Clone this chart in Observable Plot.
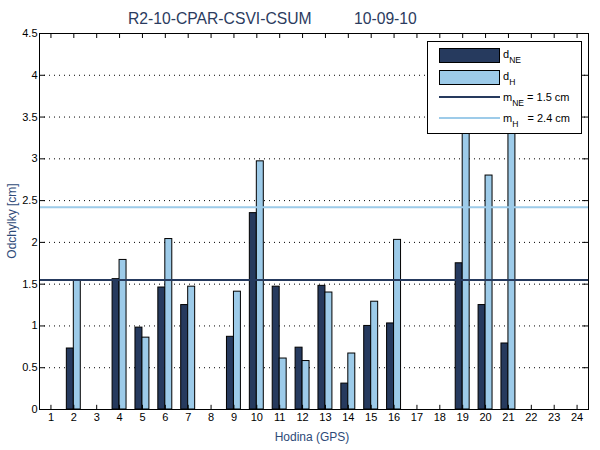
<!DOCTYPE html>
<html><head><meta charset="utf-8">
<script src="https://cdn.jsdelivr.net/npm/d3@7"></script>
<script src="https://cdn.jsdelivr.net/npm/@observablehq/plot@0.6"></script>
<style>
body{margin:0;background:#fff;}
#chart{width:600px;height:450px;}
</style>
</head><body><div id="chart"></div>
<script>
const hours = [1,2,3,4,5,6,7,8,9,10,11,12,13,14,15,16,17,18,19,20,21,22,23,24];
const dNE = [null,0.73,null,1.56,0.98,1.46,1.25,null,0.87,2.35,1.47,0.74,1.48,0.31,1.00,1.03,null,null,1.75,1.25,0.79,null,null,null];
const dH  = [null,1.54,null,1.79,0.86,2.04,1.47,null,1.41,2.97,0.61,0.58,1.40,0.67,1.29,2.03,null,null,3.90,2.80,3.80,null,null,null];
const meanNE = 1.55;
const meanH = 2.42;
const yTicks = [0,0.5,1,1.5,2,2.5,3,3.5,4,4.5];
const gridValues = [0.5,1,1.5,2,2.5,3,3.5,4];
const seriesNames = ["NE","H"];
const seriesColors = ["#263a5e","#9dcbe9"];
const meanLabels = ["= 1.5 cm","= 2.4 cm"];
const titleParts = ["R2-10-CPAR-CSVI-CSUM","10-09-10"];
const xLabel = "Hodina (GPS)";
const yLabel = "Odchylky [cm]";

const bars = [];
hours.forEach((h,i)=>{
  if (dNE[i]!=null) bars.push({hour:h, s:"NE", v:dNE[i]});
  if (dH[i]!=null) bars.push({hour:h, s:"H", v:dH[i]});
});
const half = 0.305;

const svg = Plot.plot({
  width:600, height:450,
  marginLeft:39, marginRight:12, marginTop:33, marginBottom:41,
  style:{fontFamily:"'Liberation Sans', Arial, sans-serif", fontSize:"11px", background:"#fff", color:"#000"},
  x:{domain:[0.5,24.5], axis:null},
  y:{domain:[0,4.5], axis:null},
  color:{domain:seriesNames, range:seriesColors},
  marks:[
    Plot.ruleY(gridValues,{y:d=>d, stroke:"#000", strokeDasharray:"1,4", strokeWidth:1}),
    Plot.rectY(bars,{
      x1:d=>d.s==="NE"?d.hour-half:d.hour,
      x2:d=>d.s==="NE"?d.hour:d.hour+half,
      y1:0, y2:"v", fill:"s", stroke:"#000", strokeWidth:1, clip:true
    }),
    Plot.ruleY([meanNE],{y:d=>d, stroke:seriesColors[0], strokeWidth:2}),
    Plot.ruleY([meanH],{y:d=>d, stroke:seriesColors[1], strokeWidth:2}),
    Plot.ruleX(hours,{x:d=>d, y1:0, y2:0.05, stroke:"#000"}),
    Plot.ruleX(hours,{x:d=>d, y1:4.44, y2:4.5, stroke:"#000"}),
    Plot.ruleY(yTicks,{y:d=>d, x1:24.24, x2:24.5, stroke:"#000"}),
    Plot.ruleY(yTicks,{y:d=>d, x1:0.5, x2:0.76, stroke:"#000"}),
    Plot.frame({stroke:"#000"}),
    Plot.axisX({ticks:hours, tickSize:0, tickPadding:4, tickFormat:d=>String(d), label:null, fontSize:11}),
    Plot.axisY({ticks:yTicks, tickSize:0, tickPadding:2, tickFormat:d=>String(d), label:null, fontSize:11})
  ]
});

const g = d3.select(svg);
const font = "'Liberation Sans', Arial, sans-serif";
// title
g.append("text").attr("x",128).attr("y",24).attr("text-anchor","start").attr("fill","#2b3b5e").attr("font-size","15.7px").attr("font-family",font).text(titleParts[0]);
g.append("text").attr("x",354).attr("y",24).attr("text-anchor","start").attr("fill","#2b3b5e").attr("font-size","15.7px").attr("font-family",font).text(titleParts[1]);
// axis labels
g.append("text").attr("x",312).attr("y",441).attr("text-anchor","middle").attr("fill","#2e4a78").attr("font-size","12px").attr("font-family",font).text(xLabel);
g.append("text").attr("transform","translate(16,221) rotate(-90)").attr("text-anchor","middle").attr("fill","#2e4a78").attr("font-size","12px").attr("font-family",font).text(yLabel);
// legend
const lg = g.append("g").attr("font-family",font).attr("font-size","11px").attr("fill","#000").attr("text-anchor","start");
lg.append("rect").attr("x",427.5).attr("y",41.5).attr("width",154).attr("height",92).attr("fill","#fff").attr("stroke","#000");
lg.append("rect").attr("x",439.5).attr("y",48.5).attr("width",60).attr("height",14).attr("fill",seriesColors[0]).attr("stroke","#000");
lg.append("rect").attr("x",439.5).attr("y",70.5).attr("width",60).attr("height",14).attr("fill",seriesColors[1]).attr("stroke","#000");
lg.append("line").attr("x1",439).attr("x2",500).attr("y1",97).attr("y2",97).attr("stroke",seriesColors[0]).attr("stroke-width",2);
lg.append("line").attr("x1",439).attr("x2",500).attr("y1",118).attr("y2",118).attr("stroke",seriesColors[1]).attr("stroke-width",2);
function lab(y, main, sub, rest){
  const t = lg.append("text").attr("x",503).attr("y",y).attr("text-anchor","start");
  t.append("tspan").text(main);
  t.append("tspan").attr("dy",5).attr("font-size","8.5px").text(sub);
  if (rest) t.append("tspan").attr("dy",-5).text(rest);
}
lab(58,"d",seriesNames[0]);
lab(80,"d",seriesNames[1]);
lab(101,"m",seriesNames[0]," "+meanLabels[0]);
lab(122,"m",seriesNames[1],"   "+meanLabels[1]);
lg.selectAll("text").attr("xml:space","preserve").style("white-space","pre");

document.getElementById("chart").appendChild(svg);
</script>
</body></html>
